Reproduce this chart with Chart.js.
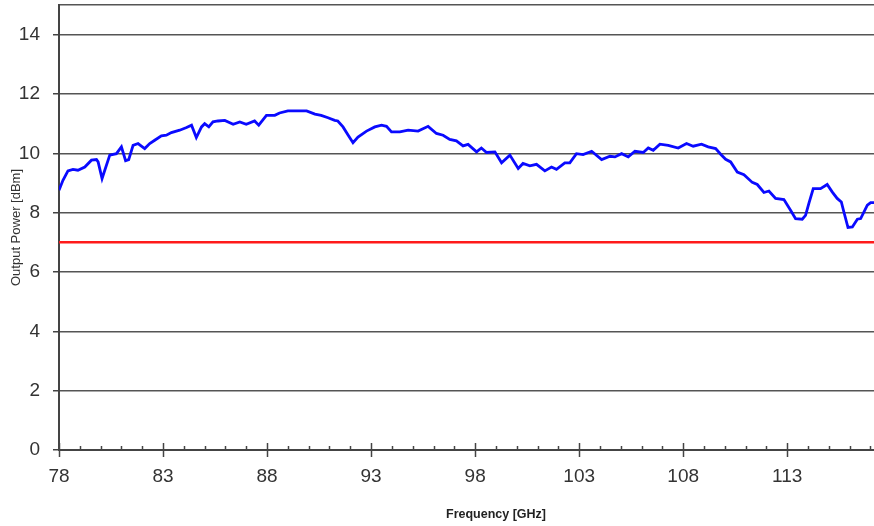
<!DOCTYPE html>
<html>
<head>
<meta charset="utf-8">
<script src="https://cdn.jsdelivr.net/npm/chart.js@4.4.1/dist/chart.umd.min.js"></script>
<style>
  html, body { margin: 0; padding: 0; background: #fff; overflow: hidden; }
  #wrap { width: 874px; height: 526px; }
</style>
</head>
<body>
<div id="wrap"><canvas id="powerChart"></canvas></div>
<script>
const freq = [
  78.0, 78.19, 78.43, 78.67, 78.91, 79.24, 79.56, 79.8, 79.88, 80.07,
  80.44, 80.76, 81.0, 81.2, 81.35, 81.56, 81.8, 82.12, 82.36, 82.6,
  82.92, 83.16, 83.4, 83.8, 84.13, 84.37, 84.6, 84.85, 85.0, 85.2,
  85.4, 85.64, 85.97, 86.37, 86.69, 87.0, 87.4, 87.6, 87.97, 88.37,
  88.6, 89.0, 89.9, 90.3, 90.6, 90.93, 91.25, 91.4, 91.65, 91.9,
  92.13, 92.37, 92.78, 93.18, 93.5, 93.74, 93.98, 94.38, 94.78, 95.26,
  95.74, 96.14, 96.46, 96.78, 97.1, 97.42, 97.66, 98.07, 98.3, 98.55,
  98.95, 99.27, 99.67, 100.07, 100.3, 100.63, 100.95, 101.35, 101.67, 101.91,
  102.31, 102.55, 102.87, 103.19, 103.6, 104.08, 104.48, 104.72, 105.04, 105.36,
  105.68, 106.08, 106.32, 106.56, 106.88, 107.28, 107.76, 108.16, 108.48, 108.88,
  109.2, 109.56, 109.8, 110.04, 110.28, 110.6, 110.92, 111.32, 111.56, 111.88,
  112.12, 112.44, 112.84, 113.16, 113.4, 113.72, 113.88, 114.04, 114.25, 114.6,
  114.92, 115.16, 115.4, 115.6, 115.72, 115.92, 116.13, 116.37, 116.53, 116.85,
  117.01, 117.17
];
const power = [
  8.76, 9.09, 9.41, 9.46, 9.43, 9.54, 9.77, 9.79, 9.71, 9.15,
  9.94, 9.99, 10.22, 9.75, 9.79, 10.27, 10.33, 10.16, 10.33, 10.44,
  10.59, 10.61, 10.7, 10.78, 10.87, 10.95, 10.53, 10.89, 11.0, 10.89,
  11.06, 11.09, 11.11, 10.98, 11.06, 10.98, 11.09, 10.95, 11.28, 11.28,
  11.36, 11.43, 11.43, 11.32, 11.28, 11.2, 11.11, 11.09, 10.89, 10.61,
  10.36, 10.55, 10.75, 10.89, 10.95, 10.91, 10.72, 10.72, 10.78, 10.75,
  10.91, 10.67, 10.61, 10.47, 10.42, 10.25, 10.3, 10.05, 10.18, 10.03,
  10.05, 9.68, 9.94, 9.49, 9.66, 9.58, 9.63, 9.41, 9.54, 9.46,
  9.68, 9.68, 9.99, 9.96, 10.07, 9.79, 9.9, 9.88, 9.99, 9.88,
  10.07, 10.03, 10.18, 10.1, 10.31, 10.27, 10.18, 10.33, 10.24, 10.31,
  10.22, 10.16, 9.97, 9.8, 9.71, 9.37, 9.28, 9.02, 8.95, 8.68,
  8.73, 8.48, 8.44, 8.08, 7.8, 7.78, 7.91, 8.31, 8.81, 8.81,
  8.95, 8.7, 8.48, 8.36, 8.03, 7.5, 7.52, 7.78, 7.8, 8.25,
  8.34, 8.34
];
// specification limit
const limitFreq = [78, 117.17];
const limitPower = [7, 7];

const xTicks = [78, 83, 88, 93, 98, 103, 108, 113];
const yTicks = [0, 2, 4, 6, 8, 10, 12, 14, 15];

const FONT = '"Liberation Sans", Arial, sans-serif';
const AXIS = '#444';

// small tick marks pointing into the plot (1 GHz minor, 5 GHz major)
const innerTicks = {
  id: 'innerTicks',
  afterDraw(chart) {
    const { ctx, chartArea, scales } = chart;
    ctx.save();
    ctx.strokeStyle = AXIS;
    ctx.lineWidth = 1.5;
    for (let f = 78; f <= 117; f++) {
      const x = Math.round(scales.x.getPixelForValue(f)) + 0.5;
      const len = (f - 78) % 5 === 0 ? 7 : 4;
      ctx.beginPath();
      ctx.moveTo(x, chartArea.bottom);
      ctx.lineTo(x, chartArea.bottom - len);
      ctx.stroke();
    }
    // x axis title, sits off-centre as in the original
    ctx.fillStyle = '#222';
    ctx.font = 'bold 12.5px ' + FONT;
    ctx.textAlign = 'center';
    ctx.textBaseline = 'middle';
    ctx.fillText('Frequency [GHz]', 496, 515);
    ctx.restore();
  }
};

const ctx = document.getElementById('powerChart').getContext('2d');

new Chart(ctx, {
  type: 'line',
  data: {
    datasets: [
      {
        label: 'Output Power',
        data: freq.map((f, i) => ({ x: f, y: power[i] })),
        borderColor: '#0a0aff',
        borderWidth: 2.8,
        pointRadius: 0,
        tension: 0,
        order: 1
      },
      {
        label: 'Limit',
        data: limitFreq.map((f, i) => ({ x: f, y: limitPower[i] })),
        borderColor: '#ff1a1a',
        borderWidth: 2.5,
        pointRadius: 0,
        order: 2
      }
    ]
  },
  options: {
    responsive: true,
    maintainAspectRatio: false,
    animation: false,
    layout: { padding: { left: 5, right: 0, top: 5, bottom: 0 } },
    plugins: {
      legend: { display: false },
      tooltip: { enabled: false }
    },
    scales: {
      x: {
        type: 'linear',
        min: 78,
        max: 117.17,
        afterBuildTicks: axis => { axis.ticks = xTicks.map(v => ({ value: v })); },
        afterFit: axis => {
          axis.height = 76;
          axis.paddingLeft = 0;
          axis.paddingRight = 0;
        },
        ticks: {
          color: '#333',
          font: { family: FONT, size: 19 },
          padding: 8,
          maxRotation: 0
        },
        grid: {
          drawOnChartArea: false,
          tickLength: 7,
          tickWidth: 1.5,
          tickColor: AXIS
        },
        border: { color: AXIS, width: 2 }
      },
      y: {
        min: 0,
        max: 15,
        afterBuildTicks: axis => { axis.ticks = yTicks.map(v => ({ value: v })); },
        afterFit: axis => {
          axis.width = 54;
          axis.paddingTop = 0;
          axis.paddingBottom = 0;
        },
        ticks: {
          color: '#333',
          font: { family: FONT, size: 19 },
          padding: 13,
          callback: v => (v === 15 ? '' : v)
        },
        grid: {
          color: '#555',
          lineWidth: 1.5,
          tickLength: 6,
          tickColor: c => (c.tick && c.tick.value === 15 ? 'rgba(0,0,0,0)' : AXIS)
        },
        border: { color: AXIS, width: 2 },
        title: {
          display: true,
          text: 'Output Power [dBm]',
          color: '#333',
          font: { family: FONT, size: 13 },
          padding: { top: 4, bottom: 4 }
        }
      }
    }
  },
  plugins: [innerTicks]
});
</script>
</body>
</html>
